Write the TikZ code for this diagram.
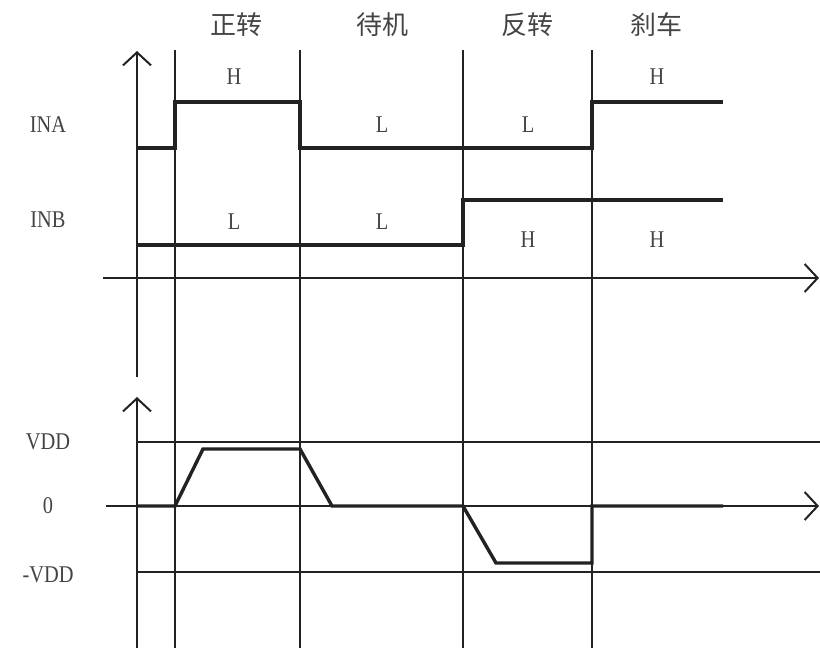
\documentclass[tikz,border=0pt]{standalone}
\usepackage{fontspec}
\setmainfont{Liberation Serif}
\newfontfamily\lab{Liberation Serif}[FakeStretch=0.85]
\newfontfamily\cjk{Noto Sans CJK SC}
\usetikzlibrary{arrows.meta}
\definecolor{ink}{HTML}{222222}
\definecolor{txt}{HTML}{444444}
\tikzset{
  thin line/.style={draw=ink, line width=2pt},
  signal/.style={draw=ink, line width=3.4pt, line join=miter},
  axis arrow/.style={draw=ink, line width=2pt, -{Straight Barb[length=13pt,width=28pt,line width=2pt]}},
  lvl/.style={text=txt, font=\lab\fontsize{24}{25}\selectfont, inner sep=0pt},
  title/.style={text=txt, font=\cjk\fontsize{26}{27}\selectfont, inner sep=0pt},
}
\begin{document}
\begin{tikzpicture}[x=1pt,y=-1pt]
\useasboundingbox (0,0) rectangle (820,651);

% vertical divider lines
\foreach \x in {175,300,463,592}
  \draw[thin line] (\x,50) -- (\x,648);

% upper axes
\draw[axis arrow] (137,377) -- (137,51);
\draw[axis arrow] (103,278) -- (819,278);

% lower axes
\draw[axis arrow] (137,648) -- (137,397);
\draw[axis arrow] (106,506) -- (819,506);
\draw[thin line] (137,442) -- (820,442);
\draw[thin line] (137,572) -- (820,572);

% INA
\draw[signal] (137,148) -- (175,148) -- (175,102) -- (300,102) -- (300,148)
  -- (592,148) -- (592,102) -- (723,102);
% INB
\draw[signal] (137,245) -- (463,245) -- (463,200) -- (723,200);
% output
\draw[signal] (137,506) -- (175,506) -- (203,449) -- (300,449) -- (332,506)
  -- (463,506) -- (496,563) -- (592,563) -- (592,506) -- (723,506);

% titles
\node[title] (s1) at (236,25) {正转};
\node[title] (s2) at (382,25) {待机};
\node[title] (s3) at (527,25) {反转};
\node[title] (s4) at (656,25) {刹车};

% row labels
\node[lvl] (ina) at (48,125) {INA};
\node[lvl] (inb) at (48,220) {INB};
\node[lvl] (vdd) at (48,442) {VDD};
\node[lvl] (zero) at (48,506) {0};
\node[lvl] (nvdd) at (48,575) {-VDD};

% level labels
\node[lvl] (a1) at (234,77) {H};
\node[lvl] (a2) at (382,125) {L};
\node[lvl] (a3) at (528,125) {L};
\node[lvl] (a4) at (657,77) {H};
\node[lvl] (b1) at (234,222) {L};
\node[lvl] (b2) at (382,222) {L};
\node[lvl] (b3) at (528,240) {H};
\node[lvl] (b4) at (657,240) {H};
\end{tikzpicture}
\end{document}
